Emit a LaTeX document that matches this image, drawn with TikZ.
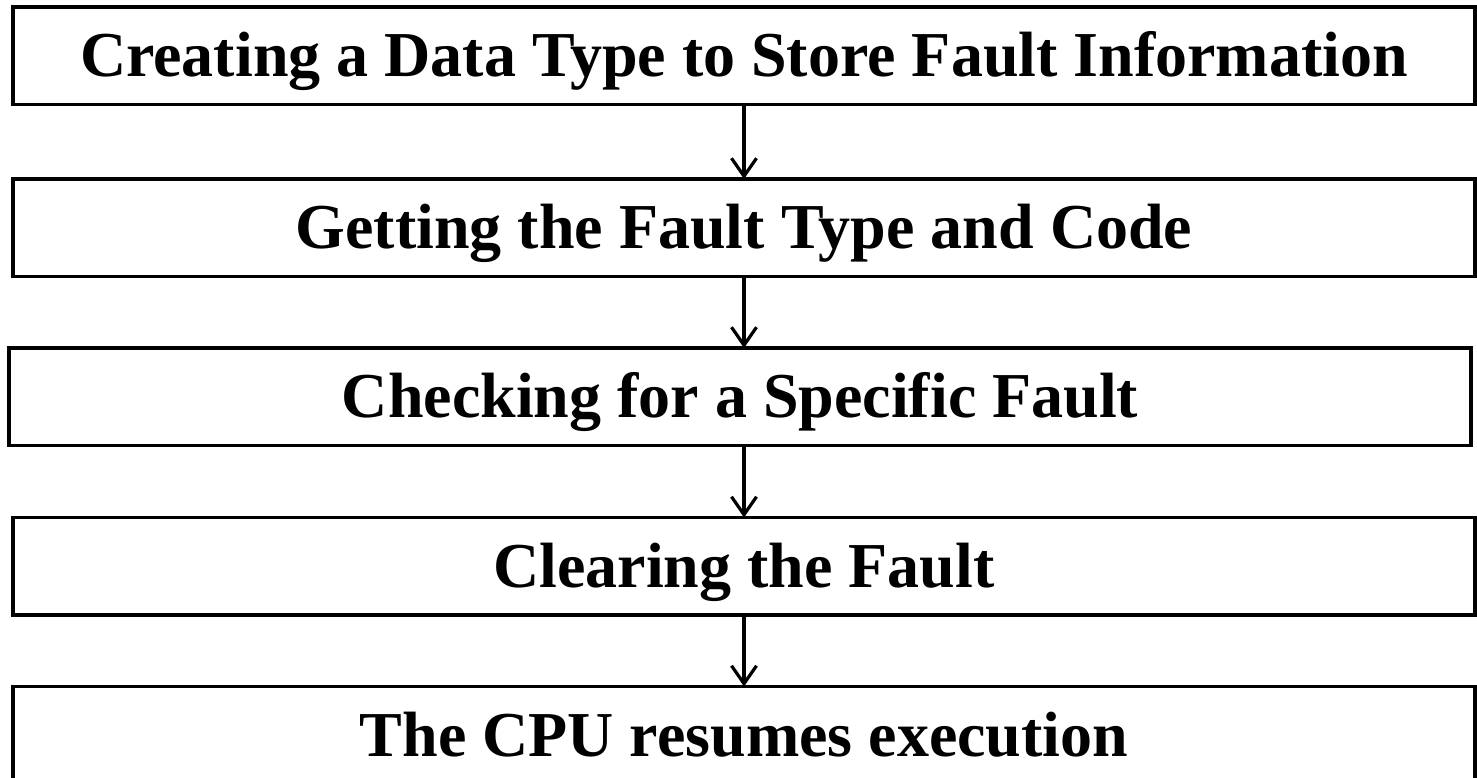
\documentclass[tikz,border=0pt]{standalone}
\usepackage{fontspec}
\setmainfont{Liberation Serif}
\usetikzlibrary{arrows.meta,positioning}
\tikzset{
  stepbox/.style={draw=black, line width=3.7pt, minimum width=1462pt, minimum height=97.5pt,
    inner sep=0pt, outer sep=0pt, text height=42.4pt, text depth=0pt,
    font=\fontsize{64}{77}\selectfont\bfseries},
  flow/.style={-{Straight Barb[length=18pt,width=25pt]}, draw=black, line width=3.2pt},
}
\begin{document}
\begin{tikzpicture}[x=1pt,y=-1pt]
\useasboundingbox (0,0) rectangle (1477,777);
\node[stepbox] (info) at (744,55.75) {Creating a Data Type to Store Fault Information};
\node[stepbox, below=74.5pt of info] (type) {Getting the Fault Type and Code};
\node[stepbox, below=71.5pt of type, xshift=-4pt] (check) {Checking for a Specific Fault};
\node[stepbox, below=72pt of check, xshift=4pt] (clear) {Clearing the Fault};
\node[stepbox, below=71.5pt of clear] (resume) {The CPU resumes execution};
\draw[flow] (info.south) -- (type.north);
\draw[flow] (type.south) -- (type.south |- check.north);
\draw[flow] (type.south |- check.south) -- (clear.north);
\draw[flow] (clear.south) -- (resume.north);
\end{tikzpicture}
\end{document}
